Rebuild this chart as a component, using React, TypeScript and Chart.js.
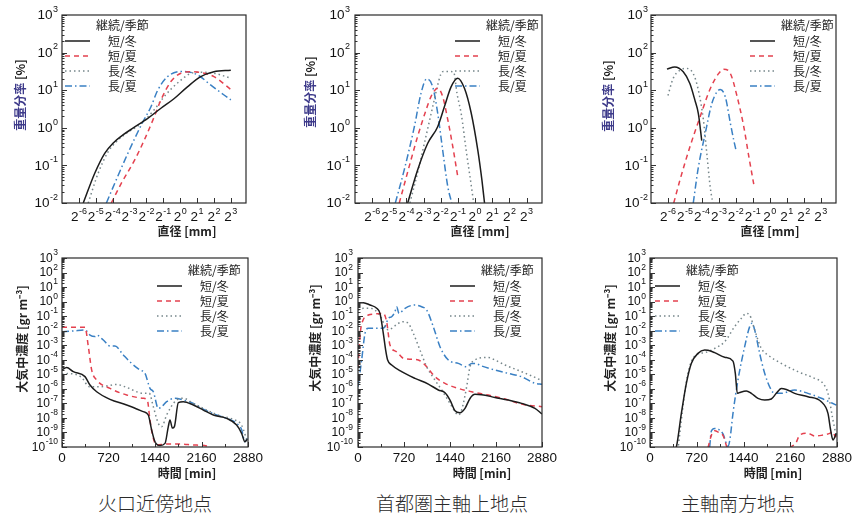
import React, { useEffect, useRef } from "react";
import { Chart, registerables } from "chart.js";

Chart.register(...registerables);

type Pair = [number, number | null];

// ===== ticks & labels =====
const diameterTicks = [-6, -5, -4, -3, -2, -1, 0, 1, 2, 3]; // exponent of 2 [mm]
const percentDecades = [-2, -1, 0, 1, 2, 3]; // exponent of 10 [%]
const timeTicks = [0, 720, 1440, 2160, 2880]; // [min]
const timeMinorTicks = [360, 1080, 1800, 2520];
const concDecades = [-10, -9, -8, -7, -6, -5, -4, -3, -2, -1, 0, 1, 2, 3];

const seriesLabels = ["短/冬", "短/夏", "長/冬", "長/夏"];
const legendTitle = "継続/季節";
const captions = ["火口近傍地点", "首都圏主軸上地点", "主軸南方地点"];
const sizeXTitle = "直径 [mm]";
const timeXTitle = "時間 [min]";
const sizeYTitleMain = "重量分率";
const sizeYTitleUnit = " [%]";
const concYTitle = "大気中濃度 [gr m⁻³]";

// ===== grain size distribution: [log2 diameter(mm), log10 weight fraction(%)] =====
const sizeVentSW: Pair[] = [[-5.74, -2.0], [-5.06, -1.21], [-4.47, -0.68], [-3.98, -0.41], [-3.39, -0.19], [-2.8, -0.01], [-1.92, 0.25], [-1.14, 0.52], [-0.35, 0.78], [0.43, 1.09], [1.22, 1.36], [2.0, 1.49], [3.0, 1.53]];
const sizeVentSS: Pair[] = [[-4.08, -2.0], [-3.49, -1.48], [-2.7, -0.86], [-2.12, -0.32], [-1.53, 0.3], [-1.14, 0.74], [-0.55, 1.23], [0.04, 1.45], [0.63, 1.49], [1.2, 1.47], [2.0, 1.36], [3.0, 1.02]];
const sizeVentLW: Pair[] = [[-5.45, -2.0], [-4.86, -1.21], [-4.27, -0.64], [-3.8, -0.38], [-3.2, -0.15], [-2.5, 0.05], [-2.0, 0.25], [-1.5, 0.5], [-1.0, 0.8], [-0.5, 1.05], [0.0, 1.25], [0.5, 1.42], [1.0, 1.48], [2.0, 1.45], [3.0, 1.32]];
const sizeVentLS: Pair[] = [[-4.37, -2.0], [-3.88, -1.48], [-3.1, -0.68], [-2.31, 0.07], [-1.73, 0.56], [-1.33, 1.0], [-0.75, 1.36], [-0.16, 1.49], [0.14, 1.5], [1.02, 1.41], [1.8, 1.14], [3.0, 0.74]];

const sizeAxisSW: Pair[] = [[-3.93, -2.0], [-3.35, -1.12], [-2.76, -0.41], [-2.18, 0.03], [-1.79, 0.56], [-1.4, 1.09], [-1.01, 1.32], [-0.62, 1.05], [-0.23, 0.4], [0.16, -0.6], [0.4, -1.4], [0.55, -2.0]];
const sizeAxisSS: Pair[] = [[-4.42, -2.0], [-3.74, -0.86], [-3.35, -0.23], [-2.86, 0.47], [-2.57, 0.83], [-2.18, 1.05], [-1.89, 0.83], [-1.59, 0.21], [-1.3, -0.5], [-1.01, -1.3]];
const sizeAxisLW: Pair[] = [[-3.8, -2.0], [-3.3, -1.1], [-2.9, -0.3], [-2.5, 0.5], [-2.2, 1.1], [-2.0, 1.42], [-1.85, 1.5], [-1.5, 1.5], [-1.25, 1.48], [-1.05, 0.9], [-0.8, 0.35], [-0.52, -0.6], [-0.25, -1.45], [-0.08, -2.0]];
const sizeAxisLS: Pair[] = [[-4.65, -2.0], [-4.13, -1.12], [-3.54, 0.03], [-3.15, 0.92], [-2.83, 1.3], [-2.47, 1.09], [-2.18, 0.39], [-1.89, -0.59], [-1.59, -1.57], [-1.36, -2.0]];

const sizeSouthSW: Pair[] = [[-6.06, 1.56], [-5.6, 1.62], [-5.1, 1.49], [-4.71, 1.18], [-4.41, 0.73], [-4.21, 0.38], [-4.01, -0.34]];
const sizeSouthSS: Pair[] = [[-5.66, -2.0], [-5.3, -1.4], [-4.71, -0.51], [-4.11, 0.29], [-3.51, 1.04], [-3.02, 1.44], [-2.72, 1.56], [-2.32, 1.44], [-1.92, 0.82], [-1.53, 0.02], [-1.23, -0.78], [-0.93, -1.54]];
const sizeSouthLW: Pair[] = [[-6.0, 0.86], [-5.7, 1.31], [-5.3, 1.53], [-4.91, 1.58], [-4.51, 1.44], [-4.21, 1.0], [-3.91, 0.2], [-3.71, -0.69], [-3.51, -1.58], [-3.36, -2.0]];
const sizeSouthLS: Pair[] = [[-4.51, -2.0], [-4.21, -1.05], [-3.81, -0.16], [-3.42, 0.64], [-3.12, 0.95], [-2.92, 1.02], [-2.62, 0.82], [-2.32, 0.11], [-2.12, -0.34], [-1.98, -0.62]];

// ===== air concentration: [time(min), log10 concentration(gr m^-3)] =====
const concVentSW: Pair[] = [[0, -4.7], [72, -4.54], [175, -4.82], [356, -5.16], [433, -5.74], [537, -6.2], [743, -6.72], [1001, -7.11], [1259, -7.57], [1336, -7.8], [1388, -8.83], [1440, -9.64], [1517, -9.9], [1595, -9.75], [1646, -8.6], [1672, -8.14], [1710, -8.7], [1740, -8.6], [1801, -6.95], [1878, -6.88], [2033, -7.11], [2188, -7.46], [2343, -7.8], [2549, -8.03], [2704, -8.49], [2781, -9.06], [2833, -9.64], [2869, -9.47]];
const concVentSS: Pair[] = [[0, -1.77], [356, -1.77], [408, -3.1], [459, -4.7], [537, -5.39], [743, -5.97], [1001, -6.42], [1259, -6.65], [1321, -6.77], [1362, -8.14], [1414, -9.41], [1465, -9.86], [1620, -9.8], [1827, -9.8], [2033, -9.86], [2240, -9.93], [2317, -10.1]];
const concVentLW: Pair[] = [[0, -5.0], [100, -4.95], [300, -5.2], [424, -5.85], [600, -5.85], [846, -5.7], [1000, -5.9], [1259, -6.31], [1350, -6.3], [1414, -7.23], [1491, -8.37], [1543, -8.6], [1620, -7.8], [1690, -7.23], [1775, -6.77], [1878, -6.65], [2033, -7.0], [2240, -7.46], [2446, -7.85], [2653, -8.1], [2781, -8.5], [2860, -9.5]];
const concVentLS: Pair[] = [[0, -2.07], [175, -2.02], [356, -1.95], [433, -2.3], [511, -2.4], [537, -2.3], [640, -2.64], [743, -3.05], [820, -3.05], [949, -3.67], [1078, -4.25], [1207, -4.7], [1285, -4.93], [1362, -5.97], [1414, -6.2], [1491, -7.34], [1543, -7.23], [1620, -6.88], [1749, -6.65], [1878, -6.77], [2033, -7.0], [2188, -7.4], [2394, -7.8], [2549, -8.03], [2704, -8.37], [2781, -8.8], [2833, -9.64], [2869, -9.4]];

const concAxisSW: Pair[] = [[0, -0.07], [83, -0.07], [188, -0.23], [292, -0.46], [344, -0.81], [396, -2.18], [433, -3.33], [464, -4.02], [527, -4.36], [683, -4.82], [892, -5.28], [1101, -5.67], [1257, -6.08], [1362, -6.27], [1440, -6.77], [1518, -7.5], [1596, -7.64], [1675, -7.34], [1753, -6.66], [1831, -6.38], [1935, -6.4], [2144, -6.59], [2353, -6.77], [2562, -7.0], [2770, -7.34], [2880, -7.73]];
const concAxisSS: Pair[] = [[0, -4.5], [40, -2.0], [80, -1.27], [162, -0.92], [266, -0.85], [396, -0.81], [449, -1.4], [501, -2.99], [605, -3.45], [709, -3.9], [840, -3.97], [944, -4.02], [1049, -4.36], [1205, -5.16], [1362, -5.62], [1570, -5.97], [1779, -6.2], [2040, -6.43], [2301, -6.7], [2562, -7.05], [2880, -7.23]];
const concAxisLW: Pair[] = [[0, -0.58], [83, -0.46], [188, -0.46], [266, -0.58], [370, -1.15], [423, -1.73], [475, -1.95], [527, -1.84], [631, -1.5], [709, -1.38], [788, -1.5], [866, -2.18], [970, -3.33], [1075, -4.48], [1205, -5.4], [1310, -6.08], [1440, -7.0], [1518, -7.57], [1570, -7.8], [1622, -7.46], [1701, -5.85], [1753, -4.48], [1831, -4.02], [1935, -3.86], [2040, -3.84], [2144, -4.02], [2301, -4.36], [2562, -4.82], [2770, -5.21], [2880, -5.44]];
const concAxisLS: Pair[] = [[0, -5.85], [57, -4.02], [110, -2.18], [162, -1.84], [266, -1.84], [370, -1.84], [423, -1.73], [475, -1.15], [527, -1.04], [579, -0.69], [605, -0.35], [642, -0.81], [736, -0.46], [892, -0.23], [996, -0.35], [1075, -0.58], [1179, -1.73], [1283, -3.1], [1414, -4.02], [1570, -4.25], [1701, -4.48], [1779, -4.25], [1831, -4.25], [1935, -4.43], [2144, -4.71], [2353, -4.94], [2562, -5.17], [2770, -5.62], [2880, -5.69]];

const concSouthSW: Pair[] = [[380, -10.2], [406, -10.0], [483, -7.69], [560, -5.62], [636, -4.25], [739, -3.56], [842, -3.33], [893, -3.35], [996, -3.51], [1150, -3.83], [1278, -4.09], [1314, -4.93], [1345, -6.31], [1381, -6.25], [1484, -6.15], [1560, -6.31], [1663, -6.65], [1766, -6.77], [1868, -6.7], [1945, -6.31], [2022, -5.97], [2099, -6.04], [2228, -6.31], [2433, -6.54], [2638, -6.89], [2741, -7.69], [2782, -8.83], [2818, -9.52], [2870, -9.06]];
const concSouthSS: Pair[] = [[893, -10.05], [945, -9.2], [996, -8.88], [1060, -9.0], [1124, -9.2], [1186, -10.05], [1500, null], [2150, -10.05], [2250, -9.7], [2305, -9.18], [2433, -9.06], [2536, -9.25], [2638, -9.2], [2767, -9.06], [2818, -8.95], [2854, -9.3], [2880, -9.1]];
const concSouthLW: Pair[] = [[430, -10.2], [500, -7.5], [560, -5.5], [636, -4.13], [739, -3.6], [842, -3.51], [996, -3.22], [1150, -2.76], [1304, -1.72], [1407, -1.15], [1484, -0.81], [1535, -0.92], [1612, -1.95], [1714, -3.22], [1817, -3.67], [2022, -4.25], [2279, -4.82], [2536, -5.28], [2664, -5.62], [2741, -6.31], [2818, -8.15], [2870, -9.29]];
const concSouthLS: Pair[] = [[919, -10.0], [945, -8.9], [996, -8.72], [1060, -8.8], [1124, -9.1], [1201, -9.95], [1230, -9.5], [1278, -7.69], [1355, -5.39], [1458, -3.1], [1535, -1.72], [1571, -1.49], [1612, -1.95], [1689, -3.56], [1766, -4.93], [1868, -6.08], [1920, -6.31], [2022, -6.31], [2228, -6.08], [2433, -6.31], [2638, -6.65], [2870, -7.12]];

// ===== styles =====
const STYLES = [
  { color: "#1c1c1c", dash: [] as number[], width: 1.5 },
  { color: "#e4414f", dash: [5, 4], width: 1.5 },
  { color: "#76868a", dash: [1.5, 3], width: 1.5 },
  { color: "#3a80c4", dash: [7, 3, 1.5, 3], width: 1.5 },
];
const TICK_FONT = "'Liberation Sans', Arial, sans-serif";
const CJK_FONT = "'Noto Sans CJK JP', 'Liberation Sans', sans-serif";

type Panel = {
  kind: "size" | "time";
  left: number; top: number; w: number; h: number;
  yW: number; padT: number; xH: number; padR: number;
  series: Pair[][];
  legendX: number; legendY: number; // relative to chart area
  yTitle: [number, number]; xTitle: [number, number]; // page coords
  yPad: number;
};

const panels: Panel[] = [
  { kind: "size", left: 0, top: 0, w: 290, h: 240, yW: 62, padT: 15, xH: 37, padR: 44, series: [sizeVentSW, sizeVentSS, sizeVentLW, sizeVentLS], legendX: 3, legendY: 10, yTitle: [20, 95], xTitle: [187, 231], yPad: 4 },
  { kind: "size", left: 290, top: 0, w: 290, h: 240, yW: 65, padT: 15, xH: 37, padR: 38, series: [sizeAxisSW, sizeAxisSS, sizeAxisLW, sizeAxisLS], legendX: 100, legendY: 10, yTitle: [310, 92], xTitle: [480, 231], yPad: 5 },
  { kind: "size", left: 580, top: 0, w: 273, h: 240, yW: 71, padT: 15, xH: 37, padR: 17, series: [sizeSouthSW, sizeSouthSS, sizeSouthLW, sizeSouthLS], legendX: 99, legendY: 10, yTitle: [608, 96], xTitle: [770, 231], yPad: 3 },
  { kind: "time", left: 0, top: 240, w: 290, h: 240, yW: 62, padT: 18, xH: 33, padR: 42, series: [concVentSW, concVentSS, concVentLW, concVentLS], legendX: 95, legendY: 12, yTitle: [22, 339], xTitle: [187, 473], yPad: 4 },
  { kind: "time", left: 290, top: 240, w: 290, h: 240, yW: 68, padT: 18, xH: 33, padR: 38, series: [concAxisSW, concAxisSS, concAxisLW, concAxisLS], legendX: 92, legendY: 12, yTitle: [315, 338], xTitle: [482, 473], yPad: 5 },
  { kind: "time", left: 580, top: 240, w: 273, h: 240, yW: 70, padT: 18, xH: 33, padR: 16, series: [concSouthSW, concSouthSS, concSouthLW, concSouthLS], legendX: 5, legendY: 12, yTitle: [610, 338], xTitle: [773, 473], yPad: 4 },
];
const captionCenters = [155, 452, 738];

function drawParts(ctx: CanvasRenderingContext2D, parts: { text: string; color: string }[], cx: number, cy: number, rotate: boolean) {
  ctx.save();
  ctx.translate(cx, cy);
  if (rotate) ctx.rotate(-Math.PI / 2);
  ctx.textBaseline = "middle";
  ctx.textAlign = "left";
  let total = 0;
  for (const p of parts) total += ctx.measureText(p.text).width;
  let x = -total / 2;
  for (const p of parts) {
    ctx.fillStyle = p.color;
    ctx.fillText(p.text, x, 0);
    x += ctx.measureText(p.text).width;
  }
  ctx.restore();
}

// base number with raised exponent (e.g. 10 with superscript -2)
function drawPower(ctx: CanvasRenderingContext2D, base: string, exp: string, x: number, y: number, bs: number, es: number, align: "right" | "center") {
  ctx.textAlign = "left";
  ctx.textBaseline = "middle";
  ctx.font = `${bs}px ${TICK_FONT}`;
  const wb = ctx.measureText(base).width;
  ctx.font = `${es}px ${TICK_FONT}`;
  const we = ctx.measureText(exp).width;
  const total = wb + we + 0.5;
  const x0 = align === "right" ? x - total : x - total / 2;
  ctx.font = `${bs}px ${TICK_FONT}`;
  ctx.fillText(base, x0, y + 0.5);
  ctx.font = `${es}px ${TICK_FONT}`;
  ctx.fillText(exp, x0 + wb + 0.5, y - bs * 0.42);
}

const decorPlugin = {
  id: "decor",
  afterDraw(chart: any, _args: any, opts: any) {
    const { ctx, chartArea: ca, scales } = chart;
    const xs = scales.x;
    const ys = scales.y;
    ctx.save();
    ctx.setLineDash([]);
    ctx.strokeStyle = "#333";
    ctx.lineWidth = 1;
    ctx.beginPath();
    const e0 = Math.round(Math.log10(ys.min));
    const e1 = Math.round(Math.log10(ys.max));
    for (let e = e0; e <= e1; e++) {
      for (let k = 1; k <= 9; k++) {
        if (e === e1 && k > 1) break;
        const py = Math.round(ys.getPixelForValue(k * Math.pow(10, e))) + 0.5;
        const len = k === 1 ? 5 : 2.5;
        ctx.moveTo(ca.left, py);
        ctx.lineTo(ca.left + len, py);
      }
    }
    for (const v of opts.xMajor) {
      const px = Math.round(xs.getPixelForValue(v)) + 0.5;
      ctx.moveTo(px, ca.bottom);
      ctx.lineTo(px, ca.bottom - 5);
    }
    for (const v of opts.xMinor) {
      const px = Math.round(xs.getPixelForValue(v)) + 0.5;
      ctx.moveTo(px, ca.bottom);
      ctx.lineTo(px, ca.bottom - 3);
    }
    ctx.stroke();
    ctx.lineWidth = 1.2;
    ctx.strokeStyle = "#2a2a2a";
    ctx.strokeRect(ca.left, ca.top, ca.right - ca.left, ca.bottom - ca.top);

    // tick labels
    ctx.fillStyle = "#111";
    for (const d of opts.yDecades) {
      const py = ys.getPixelForValue(Math.pow(10, d));
      drawPower(ctx, "10", String(d), ca.left - opts.yPad, py, opts.yBase, opts.yExp, "right");
    }
    if (opts.isSize) {
      for (const v of opts.xMajor) {
        const px = xs.getPixelForValue(v);
        drawPower(ctx, "2", String(v), px, ca.bottom + 14, 13.5, 9, "center");
      }
    } else {
      ctx.font = `13.5px ${TICK_FONT}`;
      ctx.textAlign = "center";
      ctx.textBaseline = "middle";
      for (const v of opts.xMajor) {
        ctx.fillText(String(v), xs.getPixelForValue(v), ca.bottom + 11);
      }
    }

    // legend
    const lx = ca.left + opts.legendX;
    const ly = ca.top + opts.legendY;
    ctx.font = `12px ${CJK_FONT}`;
    ctx.textBaseline = "middle";
    ctx.textAlign = "left";
    ctx.fillStyle = "#222";
    ctx.fillText(legendTitle, lx + 31, ly);
    seriesLabels.forEach((lab, i) => {
      const y = ly + 16 + 15 * i;
      const st = STYLES[i];
      ctx.beginPath();
      ctx.strokeStyle = st.color;
      ctx.lineWidth = st.width;
      ctx.setLineDash(st.dash);
      ctx.moveTo(lx, y);
      ctx.lineTo(lx + 25, y);
      ctx.stroke();
      ctx.setLineDash([]);
      ctx.fillStyle = "#222";
      ctx.fillText(lab, lx + 43, y);
    });

    // axis titles
    ctx.font = `bold 12px ${CJK_FONT}`;
    drawParts(ctx, [{ text: opts.xTitle, color: "#222" }], opts.xTitlePos[0], opts.xTitlePos[1], false);
    drawParts(ctx, opts.yTitleParts, opts.yTitlePos[0], opts.yTitlePos[1], true);
    ctx.restore();
  },
};

function buildConfig(p: Panel): any {
  const isSize = p.kind === "size";
  const datasets = p.series.map((pairs, i) => ({
    label: seriesLabels[i],
    data: pairs.map(([x, l]) => ({ x, y: l === null ? null : Math.pow(10, l) })),
    borderColor: STYLES[i].color,
    borderDash: STYLES[i].dash,
    borderWidth: STYLES[i].width,
    pointRadius: 0,
    fill: false,
    cubicInterpolationMode: "monotone",
    spanGaps: false,
  }));
  const xTickVals = isSize ? diameterTicks : timeTicks;
  const yDecades = isSize ? percentDecades : concDecades;
  return {
    type: "line",
    data: { datasets },
    plugins: [decorPlugin],
    options: {
      responsive: false,
      animation: false,
      events: [],
      layout: { padding: { top: p.padT, right: p.padR, left: 0, bottom: 0 } },
      plugins: {
        legend: { display: false },
        tooltip: { enabled: false },
        decor: {
          isSize,
          xMajor: xTickVals,
          xMinor: isSize ? [] : timeMinorTicks,
          yDecades,
          yBase: isSize ? 13.5 : 12,
          yExp: isSize ? 9 : 8.5,
          yPad: p.yPad,
          legendX: p.legendX,
          legendY: p.legendY,
          xTitle: isSize ? sizeXTitle : timeXTitle,
          xTitlePos: [p.xTitle[0] - p.left, p.xTitle[1] - p.top],
          yTitlePos: [p.yTitle[0] - p.left, p.yTitle[1] - p.top],
          yTitleParts: isSize
            ? [{ text: sizeYTitleMain, color: "#3d3a8a" }, { text: sizeYTitleUnit, color: "#222" }]
            : [{ text: concYTitle, color: "#222" }],
        },
      },
      scales: {
        x: {
          type: "linear",
          min: isSize ? -7.0 : 0,
          max: isSize ? 3.9 : 2880,
          grid: { display: false, drawTicks: false },
          border: { display: false },
          afterBuildTicks: (s: any) => { s.ticks = xTickVals.map((v) => ({ value: v })); },
          afterFit: (s: any) => { s.height = p.xH; },
          ticks: { display: false, autoSkip: false },
        },
        y: {
          type: "logarithmic",
          min: Math.pow(10, yDecades[0]),
          max: Math.pow(10, yDecades[yDecades.length - 1]),
          grid: { display: false, drawTicks: false },
          border: { display: false },
          afterBuildTicks: (s: any) => { s.ticks = yDecades.map((d) => ({ value: Math.pow(10, d) })); },
          afterFit: (s: any) => { s.width = p.yW; },
          ticks: { display: false, autoSkip: false },
        },
      },
    },
  };
}

function PanelChart({ p }: { p: Panel }) {
  const ref = useRef<HTMLCanvasElement>(null);
  useEffect(() => {
    const chart = new Chart(ref.current as HTMLCanvasElement, buildConfig(p));
    return () => chart.destroy();
  }, [p]);
  return (
    <canvas
      ref={ref}
      width={p.w}
      height={p.h}
      style={{ position: "absolute", left: p.left, top: p.top, width: p.w, height: p.h }}
    />
  );
}

export default function App() {
  return (
    <div style={{ position: "fixed", left: 0, top: 0, width: 853, height: 519, background: "#fff", overflow: "hidden" }}>
      {panels.map((p, i) => (
        <PanelChart key={i} p={p} />
      ))}
      {captions.map((c, i) => (
        <div
          key={c}
          style={{
            position: "absolute",
            left: captionCenters[i] - 110,
            width: 220,
            top: 490,
            lineHeight: "26px",
            textAlign: "center",
            fontFamily: CJK_FONT,
            fontSize: 19,
            fontWeight: 300,
            color: "#2a2a2a",
          }}
        >
          {c}
        </div>
      ))}
    </div>
  );
}
